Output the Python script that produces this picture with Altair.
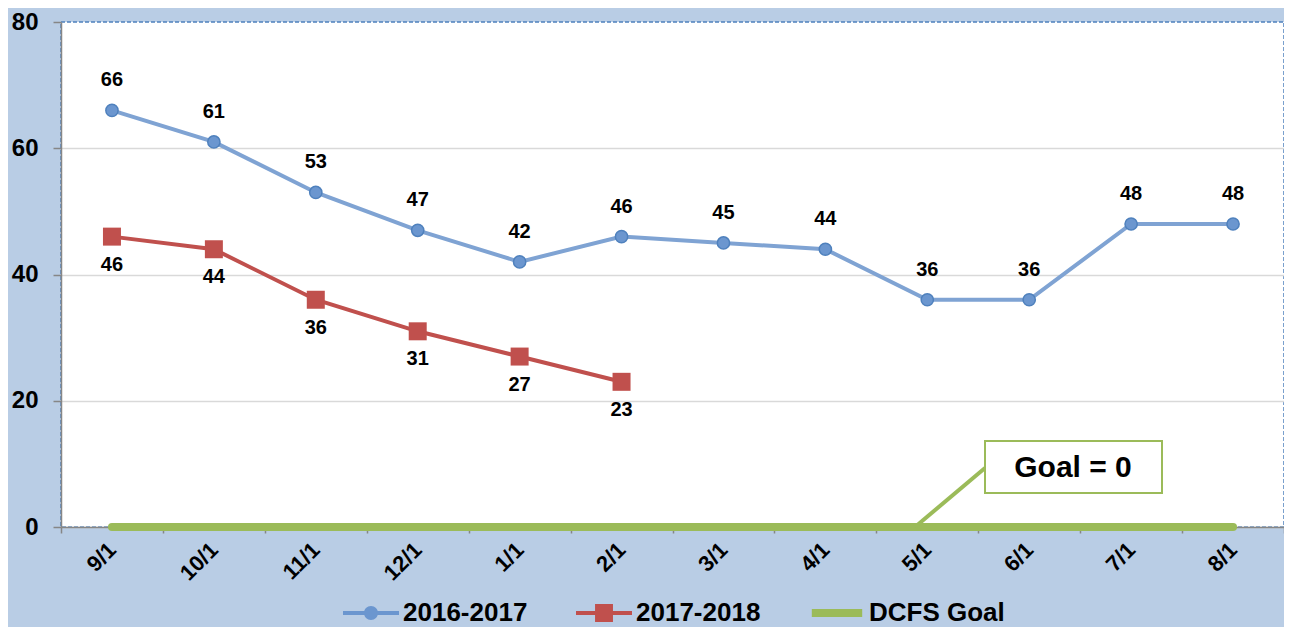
import altair as alt
import pandas as pd

months = ["9/1", "10/1", "11/1", "12/1", "1/1", "2/1", "3/1", "4/1", "5/1", "6/1", "7/1", "8/1"]
values_1617 = [66, 61, 53, 47, 42, 46, 45, 44, 36, 36, 48, 48]
values_1718 = [46, 44, 36, 31, 27, 23]
goal_values = [0] * 12
series_names = ["2016-2017", "2017-2018", "DCFS Goal"]
goal_label = ["Goal = 0"]
y_ticks = [0, 20, 40, 60, 80]

BLUE_LINE = "#7FA3D3"
BLUE_FILL = "#6B96CF"
BLUE_EDGE = "#4F81BD"
RED = "#C0504D"
GREEN = "#9BBB59"
GREY = "#868686"
FONT = "Liberation Sans"

rows = []
for m, v in zip(months, values_1617):
    rows.append({"month": m, "series": series_names[0], "value": v})
for m, v in zip(months, values_1718):
    rows.append({"month": m, "series": series_names[1], "value": v})
for m, v in zip(months, goal_values):
    rows.append({"month": m, "series": series_names[2], "value": v})
df = pd.DataFrame(rows)

x_enc = alt.X(
    "month:N",
    sort=months,
    scale=alt.Scale(domain=months, paddingInner=0, paddingOuter=0),
    axis=alt.Axis(
        title=None,
        labelAngle=-45,
        labelAlign="right",
        labelBaseline="middle",
        labelFont=FONT,
        labelFontSize=22,
        labelFontWeight="bold",
        labelColor="black",
        labelPadding=13,
        tickBand="extent",
        tickSize=6,
        tickWidth=1.5,
        tickColor=GREY,
        domainColor=GREY,
        domainWidth=1.5,
        grid=False,
    ),
)
y_enc = alt.Y(
    "value:Q",
    scale=alt.Scale(domain=[0, 80], nice=False),
    axis=alt.Axis(
        title=None,
        values=y_ticks,
        labelFont=FONT,
        labelFontSize=24,
        labelFontWeight="bold",
        labelColor="black",
        labelPadding=15,
        tickSize=8,
        tickWidth=1.5,
        tickColor=GREY,
        domainColor=GREY,
        domainWidth=1.5,
        grid=True,
        gridColor="#D9D9D9",
        gridWidth=1.5,
        gridOpacity={"condition": {"test": "datum.value === 80", "value": 0}, "value": 1},
    ),
)

base = alt.Chart(df)

goal_line = base.transform_filter(alt.datum.series == series_names[2]).mark_line(
    color=GREEN, strokeWidth=8, strokeCap="round"
).encode(x=x_enc, y=y_enc)

ann = alt.Chart(pd.DataFrame({"label": goal_label}))
callout = ann.mark_rule(color=GREEN, strokeWidth=4).encode(
    x=alt.value(854), x2=alt.value(924), y=alt.value(505), y2=alt.value(446)
)
box = ann.mark_rect(fill="white", stroke=GREEN, strokeWidth=2).encode(
    x=alt.value(924), x2=alt.value(1101), y=alt.value(419), y2=alt.value(471)
)
box_text = ann.mark_text(
    font=FONT, fontSize=30, fontWeight="bold", color="black", align="center", baseline="middle"
).encode(x=alt.value(1012), y=alt.value(446), text="label:N")

lines = base.transform_filter(
    (alt.datum.series == series_names[0]) | (alt.datum.series == series_names[1])
).mark_line(strokeWidth=4).encode(
    x=x_enc,
    y=y_enc,
    stroke=alt.Stroke(
        "series:N",
        scale=alt.Scale(domain=series_names[:2], range=[BLUE_LINE, RED]),
        legend=None,
    ),
)

blue_pts = base.transform_filter(alt.datum.series == series_names[0]).mark_point(
    shape="circle", filled=True, size=150, fill=BLUE_FILL, stroke=BLUE_EDGE, strokeWidth=1.5, opacity=1
).encode(x=x_enc, y=y_enc)

red_pts = base.transform_filter(alt.datum.series == series_names[1]).mark_point(
    shape="square", filled=True, size=324, fill=RED, strokeWidth=0, opacity=1
).encode(x=x_enc, y=y_enc)

blue_lbl = base.transform_filter(alt.datum.series == series_names[0]).mark_text(
    font=FONT, fontSize=20, fontWeight="bold", color="black", dy=-30, baseline="middle"
).encode(x=x_enc, y=y_enc, text="value:Q")

red_lbl = base.transform_filter(alt.datum.series == series_names[1]).mark_text(
    font=FONT, fontSize=20, fontWeight="bold", color="black", dy=28, baseline="middle"
).encode(x=x_enc, y=y_enc, text="value:Q")

path_circle = "M-1,-0.075L1,-0.075L1,0.075L-1,0.075Z M0.25,0A0.25,0.25 0 1,1 -0.25,0A0.25,0.25 0 1,1 0.25,0Z"
path_square = "M-1,-0.075L1,-0.075L1,0.075L-1,0.075Z M-0.32,-0.32L0.32,-0.32L0.32,0.32L-0.32,0.32Z"
path_goal = "M-0.9,-0.14L0.9,-0.14L0.9,0.14L-0.9,0.14Z"

legend_def = alt.Legend(
    title=None,
    orient="none",
    direction="horizontal",
    legendX=282,
    legendY=563,
    labelFont=FONT,
    labelFontSize=26,
    labelFontWeight="bold",
    labelColor="black",
    labelOffset=4,
    symbolSize=3136,
    symbolStrokeWidth=0,
    symbolOpacity=1,
    columnPadding=48,
)

legend_layer = base.transform_filter("false").mark_point(filled=True, opacity=1, strokeWidth=0).encode(
    x=x_enc,
    y=y_enc,
    fill=alt.Fill(
        "series:N",
        scale=alt.Scale(domain=series_names, range=[BLUE_FILL, RED, GREEN]),
        legend=legend_def,
    ),
    shape=alt.Shape(
        "series:N",
        scale=alt.Scale(domain=series_names, range=[path_circle, path_square, path_goal]),
        legend=legend_def,
    ),
)

chart = alt.layer(
    goal_line, callout, box, box_text, lines, blue_pts, red_pts, blue_lbl, red_lbl, legend_layer
).properties(
    width=1223,
    height=505,
    autosize=alt.AutoSizeParams(type="none"),
    padding={"left": 53, "top": 14, "right": 0, "bottom": 100},
    background="#B9CDE5",
).configure_view(
    fill="white", stroke=BLUE_EDGE, strokeDash=[4, 2], strokeWidth=1.5
)

chart.save("out.html", embed_options={"renderer": "svg", "actions": False})
